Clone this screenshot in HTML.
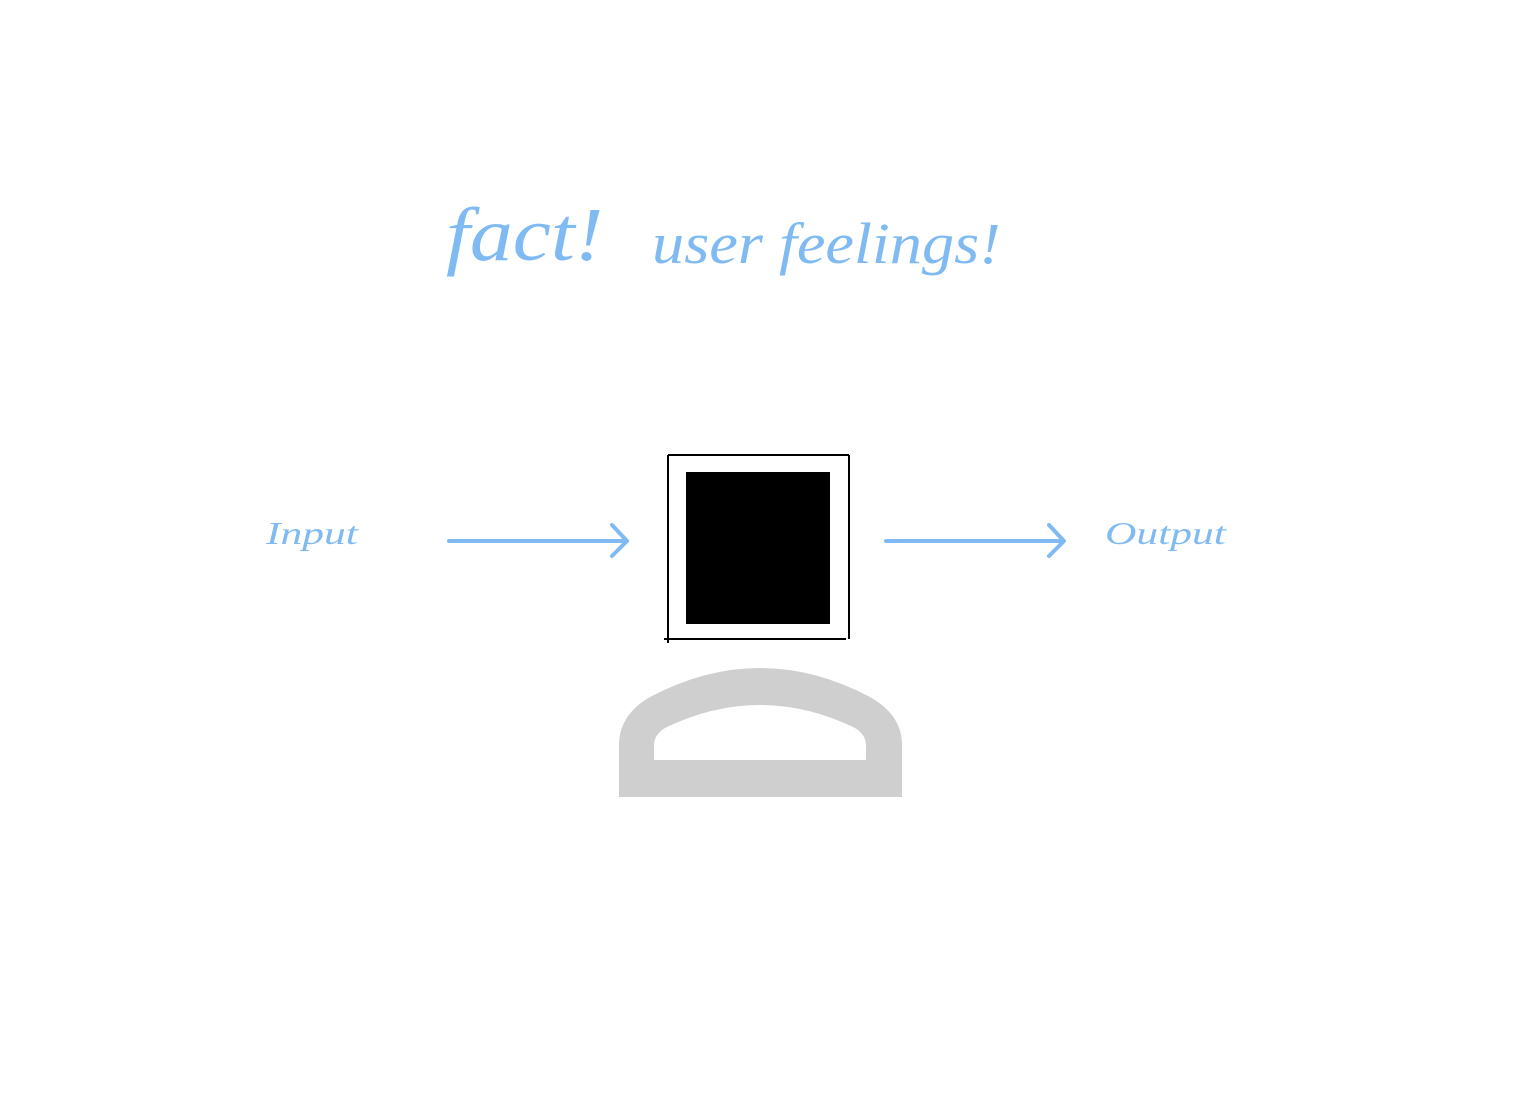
<!DOCTYPE html>
<html><head><style>
html,body{margin:0;padding:0;background:#fff;}
body{width:1514px;height:1108px;position:relative;overflow:hidden;}
.t{position:absolute;color:#7fbaf2;font-family:"Liberation Serif",serif;font-style:italic;white-space:nowrap;transform-origin:0 0;}
</style></head><body>
<div class="t" style="left:446px;top:192px;font-size:76px;transform:scaleX(1.13);">fact!</div>
<div class="t" style="left:652px;top:210px;font-size:58px;transform:scaleX(1.11);">user feelings!</div>
<div class="t" style="left:266px;top:515px;font-size:32px;transform:scaleX(1.36);">Input</div>
<div class="t" style="left:1105px;top:515px;font-size:32px;transform:scaleX(1.36);">Output</div>
<svg width="1514" height="1108" style="position:absolute;left:0;top:0">
<g stroke="#7fbaf2" stroke-width="4" fill="none" stroke-linecap="round" stroke-linejoin="round">
<line x1="449" y1="541" x2="626" y2="541"/>
<polyline points="612,525 627,541 612,556"/>
<line x1="886" y1="541" x2="1063" y2="541"/>
<polyline points="1049,525 1064,541 1049,556"/>
</g>
<g stroke="#000" stroke-width="2" fill="none">
<line x1="668" y1="455" x2="668" y2="643"/>
<line x1="668" y1="455" x2="849" y2="455"/>
<line x1="849" y1="455" x2="849" y2="639"/>
<line x1="664" y1="639" x2="846" y2="639"/>
</g>
<rect x="686" y="472" width="144" height="152" fill="#000"/>
<path fill="#cfcfcf" fill-rule="evenodd" d="M619,797 L619,745 Q619,715 650,697 Q705,668 760,668 Q815,668 870,697 Q902,715 902,745 L902,797 Z M654,760 L866,760 L866,745 Q866,735 855,728 Q808,705 760,705 Q712,705 665,728 Q654,735 654,745 Z"/>
</svg>
</body></html>
